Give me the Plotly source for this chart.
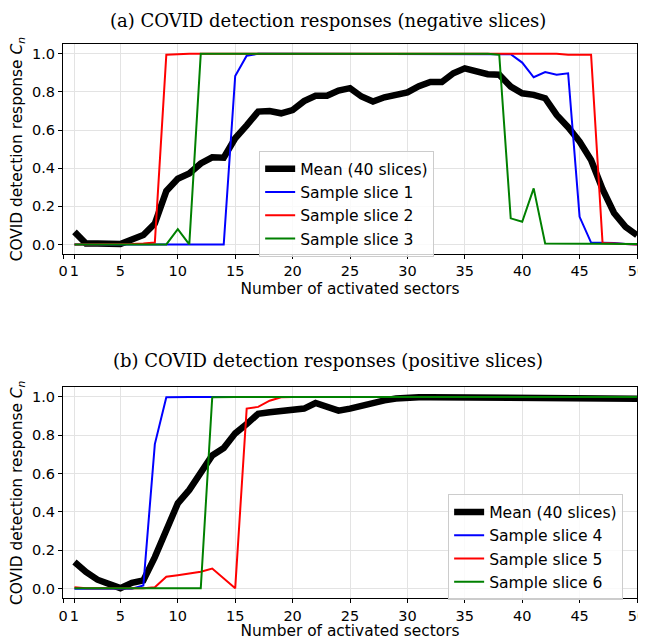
import plotly.graph_objects as go

# ---------------- data ----------------
sectors = list(range(1, 51))
x_tickvals = [0, 1, 5, 10, 15, 20, 25, 30, 35, 40, 45, 50]
x_ticktext = ["0", "1", "5", "10", "15", "20", "25", "30", "35", "40", "45", "50"]
y_tickvals = [0.0, 0.2, 0.4, 0.6, 0.8, 1.0]

neg_mean = [0.066, 0.005, 0.005, 0.003, 0.002, 0.026, 0.05, 0.11, 0.28, 0.345,
            0.372, 0.425, 0.457, 0.455, 0.557, 0.625, 0.697, 0.70, 0.688, 0.705,
            0.752, 0.78, 0.78, 0.807, 0.82, 0.776, 0.75, 0.772, 0.788, 0.798,
            0.83, 0.852, 0.852, 0.898, 0.924, 0.912, 0.893, 0.89, 0.828, 0.793,
            0.785, 0.767, 0.68, 0.615, 0.54, 0.443, 0.29, 0.165, 0.092, 0.049]
neg_s1 = [0, 0, 0, 0, 0, 0, 0, 0, 0.003, 0.003,
          0, 0, 0, 0, 0.884, 0.99, 1.0, 1.0, 1.0, 1.0,
          1.0, 1.0, 1.0, 1.0, 1.0, 1.0, 1.0, 1.0, 1.0, 1.0,
          1.0, 0.997, 0.997, 0.997, 0.997, 0.997, 1.0, 1.0, 0.998, 0.954,
          0.877, 0.904, 0.89, 0.898, 0.145, 0.01, 0.01, 0.008, 0.003, 0.0]
neg_s2 = [0, 0, 0, 0, 0, 0.003, 0.005, 0.01, 0.995, 0.998,
          1.0, 1.0, 1.0, 1.0, 1.0, 1.0, 1.0, 1.0, 1.0, 1.0,
          1.0, 1.0, 1.0, 1.0, 1.0, 1.0, 1.0, 1.0, 1.0, 1.0,
          1.0, 1.0, 1.0, 1.0, 1.0, 1.0, 1.0, 1.0, 1.0, 1.0,
          1.0, 1.0, 1.0, 0.995, 0.995, 0.995, 0.008, 0.004, 0.002, 0.0]
neg_s3 = [0, 0, 0, 0, 0, 0, 0, 0, 0, 0.08,
          0, 1.0, 1.0, 1.0, 1.0, 1.0, 1.0, 1.0, 1.0, 1.0,
          1.0, 1.0, 1.0, 1.0, 1.0, 1.0, 1.0, 1.0, 1.0, 1.0,
          1.0, 1.0, 1.0, 1.0, 1.0, 1.0, 1.0, 0.995, 0.137, 0.119,
          0.294, 0.005, 0.005, 0.005, 0.003, 0.002, 0.002, 0.002, 0.002, 0.002]

pos_mean = [0.139, 0.087, 0.047, 0.022, 0.003, 0.031, 0.043, 0.165, 0.296, 0.445,
            0.515, 0.60, 0.695, 0.733, 0.81, 0.858, 0.912, 0.92, 0.928, 0.933,
            0.939, 0.968, 0.95, 0.928, 0.939, 0.956, 0.97, 0.982, 0.992, 0.997,
            0.998, 0.998, 0.998, 0.998, 0.998, 0.998, 0.998, 0.998, 0.998, 0.998,
            0.998, 0.998, 0.998, 0.998, 0.998, 0.998, 0.998, 0.998, 0.998, 0.99]
pos_s4 = [0, 0, 0, 0, 0, 0, 0.017, 0.754, 0.998, 1.0,
          1.0, 1.0, 1.0, 1.0, 1.0, 1.0, 1.0, 1.0, 1.0, 1.0,
          1.0, 1.0, 1.0, 1.0, 1.0, 1.0, 1.0, 1.0, 1.0, 1.0,
          1.0, 1.0, 1.0, 1.0, 1.0, 1.0, 1.0, 1.0, 1.0, 1.0,
          1.0, 1.0, 1.0, 1.0, 1.0, 1.0, 1.0, 1.0, 1.0, 1.0]
pos_s5 = [0.008, 0.003, 0.003, 0.003, 0.003, 0.003, 0.003, 0.008, 0.062, 0.07,
          0.078, 0.088, 0.105, 0.055, 0.002, 0.939, 0.948, 0.98, 0.998, 1.0,
          1.0, 1.0, 1.0, 1.0, 1.0, 1.0, 1.0, 1.0, 1.0, 1.0,
          1.0, 1.0, 1.0, 1.0, 1.0, 1.0, 1.0, 1.0, 1.0, 1.0,
          1.0, 1.0, 1.0, 1.0, 1.0, 1.0, 1.0, 1.0, 1.0, 1.0]
pos_s6 = [0.002, 0.002, 0.002, 0.002, 0.002, 0.002, 0.002, 0.002, 0.002, 0.002,
          0.002, 0.002, 0.998, 1.0, 1.0, 1.0, 1.0, 1.0, 1.0, 1.0,
          1.0, 1.0, 1.0, 1.0, 1.0, 1.0, 1.0, 1.0, 1.0, 1.0,
          1.0, 1.0, 1.0, 1.0, 1.0, 1.0, 1.0, 1.0, 1.0, 1.0,
          1.0, 1.0, 1.0, 1.0, 1.0, 1.0, 1.0, 1.0, 1.0, 1.0]

title_a = "(a) COVID detection responses (negative slices)"
title_b = "(b) COVID detection responses (positive slices)"
xlabel = "Number of activated sectors"
ylabel = "COVID detection response <i>C</i><sub><i>n</i></sub>"

# ---------------- figure ----------------
OFF = 8  # page body margin
W, H = 646, 640 - OFF
L = 62.5 - OFF
R = W + OFF - 637.5
PW = W - L - R

def px(xp):   # window x pixel -> paper x
    return (xp - OFF - L) / PW

def py(yp):   # window y pixel -> paper y
    return 1 - (yp - OFF) / H

fig = go.Figure()

def add(y, name, color, width, xa, ya, legend):
    fig.add_trace(go.Scatter(x=sectors, y=y, mode="lines", name=name,
                             line=dict(color=color, width=width),
                             xaxis=xa, yaxis=ya, legend=legend))

add(neg_mean, "Mean (40 slices)", "black", 6.5, "x", "y", "legend")
add(neg_s1, "Sample slice 1", "#0000ff", 2, "x", "y", "legend")
add(neg_s2, "Sample slice 2", "#ff0000", 2, "x", "y", "legend")
add(neg_s3, "Sample slice 3", "#008000", 2, "x", "y", "legend")
add(pos_mean, "Mean (40 slices)", "black", 6.5, "x2", "y2", "legend2")
add(pos_s4, "Sample slice 4", "#0000ff", 2, "x2", "y2", "legend2")
add(pos_s5, "Sample slice 5", "#ff0000", 2, "x2", "y2", "legend2")
add(pos_s6, "Sample slice 6", "#008000", 2, "x2", "y2", "legend2")

font_sans = "DejaVu Sans"
axis_common = dict(showline=True, linecolor="black", linewidth=1, mirror=True,
                   ticks="outside", ticklen=4, tickcolor="black",
                   showgrid=True, gridcolor="#e3e3e3", gridwidth=1,
                   zeroline=False, ticklabeloverflow="allow",
                   tickfont=dict(family=font_sans, size=14.5, color="black"))

xax = dict(axis_common, range=[0, 50], tickmode="array", tickvals=x_tickvals,
           ticktext=x_ticktext,
           title=dict(text=xlabel, font=dict(family=font_sans, size=15.4, color="black"), standoff=4))
yax = dict(axis_common, range=[-0.05, 1.05], tickmode="array", tickvals=y_tickvals,
           tickformat=".1f",
           title=dict(text=ylabel, font=dict(family=font_sans, size=15.4, color="black"), standoff=8))

top_dom = [py(254), py(44.3)]
bot_dom = [py(598.3), py(387.3)]

legend_font = dict(family=font_sans, size=15.6, color="black")

fig.update_layout(
    width=W, height=H,
    margin=dict(l=L, r=R, t=0, b=0),
    paper_bgcolor="white", plot_bgcolor="white",
    font=dict(family=font_sans, color="black"),
    xaxis=dict(xax, domain=[0, 1], anchor="y"),
    yaxis=dict(yax, domain=top_dom, anchor="x"),
    xaxis2=dict(xax, domain=[0, 1], anchor="y2"),
    yaxis2=dict(yax, domain=bot_dom, anchor="x2"),
    legend=dict(x=px(259), y=py(151), xanchor="left", yanchor="top",
                bgcolor="rgba(255,255,255,0.8)", bordercolor="#cccccc", borderwidth=1,
                font=legend_font),
    legend2=dict(x=px(448.3), y=py(494.3), xanchor="left", yanchor="top",
                 bgcolor="rgba(255,255,255,0.8)", bordercolor="#cccccc", borderwidth=1,
                 font=legend_font),
    showlegend=True,
    annotations=[
        dict(text=title_a, xref="paper", yref="paper", x=px(328), y=py(20.5),
             xanchor="center", yanchor="middle", showarrow=False,
             font=dict(family="DejaVu Serif", size=18, color="black")),
        dict(text=title_b, xref="paper", yref="paper", x=px(328), y=py(360),
             xanchor="center", yanchor="middle", showarrow=False,
             font=dict(family="DejaVu Serif", size=18, color="black")),
    ],
)

fig.write_html("out.html")
